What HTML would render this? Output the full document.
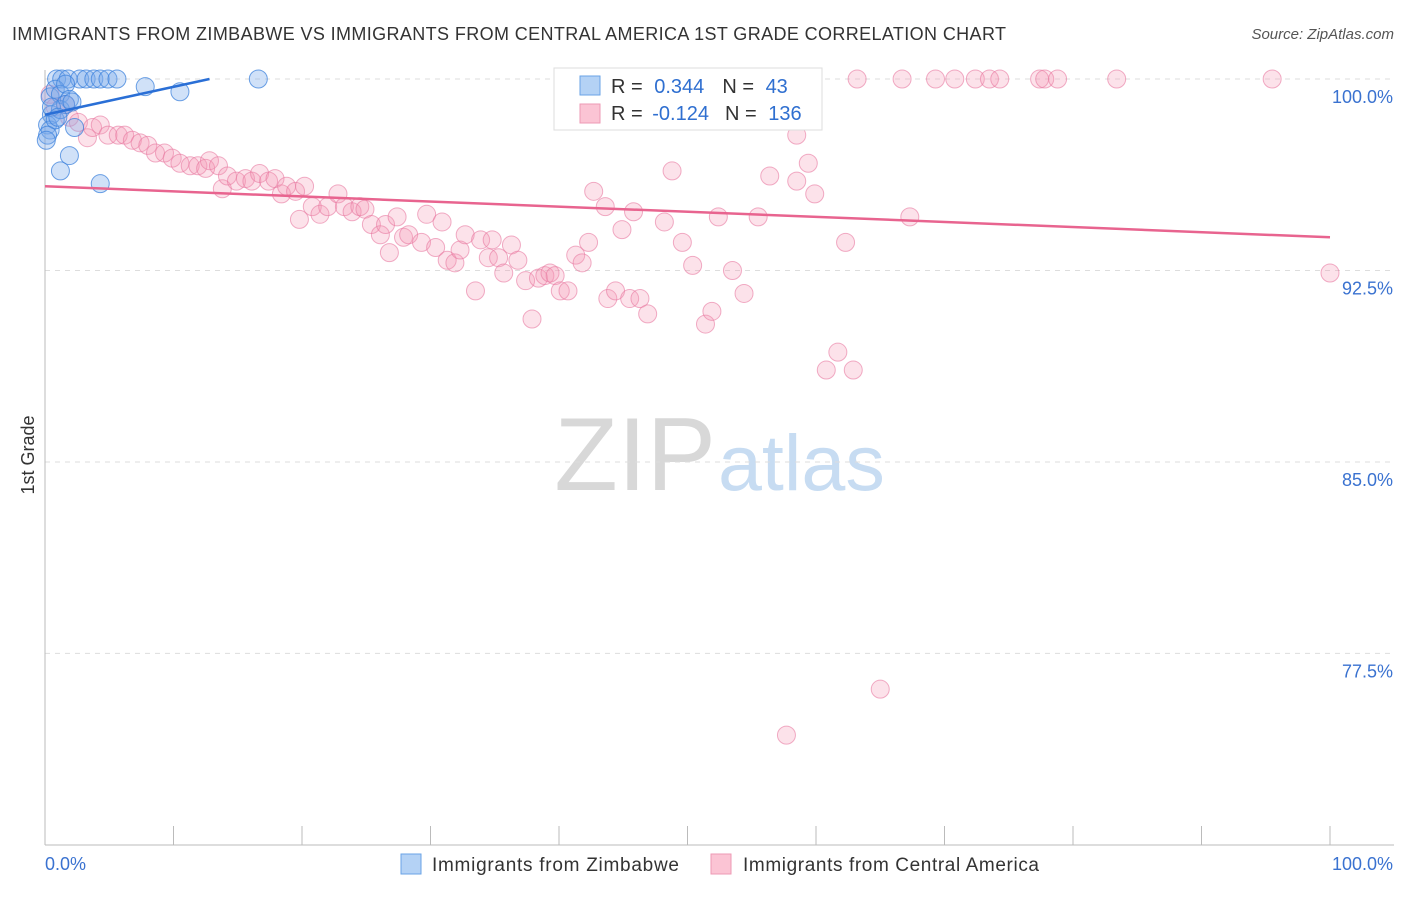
<!DOCTYPE html>
<html><head><meta charset="utf-8"><style>
body{margin:0;background:#fff;font-family:"Liberation Sans",sans-serif}
svg text{font-family:"Liberation Sans",sans-serif}
</style></head><body>
<svg id="c" width="1406" height="892" viewBox="0 0 1406 892">
<text x="12" y="40" font-size="18" fill="#333" textLength="994" lengthAdjust="spacing">IMMIGRANTS FROM ZIMBABWE VS IMMIGRANTS FROM CENTRAL AMERICA 1ST GRADE CORRELATION CHART</text>
<text x="1394" y="39" font-size="15" fill="#555" text-anchor="end" font-style="italic">Source: ZipAtlas.com</text>
<text x="716" y="490" font-size="104" fill="#d8d8d8" text-anchor="end" font-family="Liberation Serif">ZIP</text>
<text x="718" y="490" font-size="79" fill="#c7dcf2">atlas</text>
<text transform="translate(34,455) rotate(-90)" font-size="18" fill="#333" text-anchor="middle">1st Grade</text>
<g id="grid"></g><g id="marks"></g>
<g>
<rect x="554" y="68" width="268" height="62" fill="#fff" stroke="#ddd"/>
<rect x="580" y="76" width="20" height="19" fill="#b4d2f5" stroke="#6aa3e6"/>
<rect x="580" y="104" width="20" height="19" fill="#fbc4d4" stroke="#ee9ab4"/>
<text x="611" y="93" font-size="20" fill="#333">R = <tspan fill="#2f6fd0" dx="6">0.344</tspan><tspan dx="18" fill="#333">N = </tspan><tspan fill="#2f6fd0" dx="6">43</tspan></text>
<text x="611" y="120" font-size="20" fill="#333">R = <tspan fill="#2f6fd0" dx="4">-0.124</tspan><tspan dx="16" fill="#333">N = </tspan><tspan fill="#2f6fd0" dx="6">136</tspan></text>
</g>
<g>
<rect x="401" y="854" width="20" height="20" fill="#b4d2f5" stroke="#6aa3e6"/>
<text x="432" y="871" font-size="19" fill="#333" textLength="247">Immigrants from Zimbabwe</text>
<rect x="711" y="854" width="20" height="20" fill="#fbc4d4" stroke="#ee9ab4"/>
<text x="743" y="871" font-size="19" fill="#333" textLength="296">Immigrants from Central America</text>
</g>
</svg>
<script>
const yTicks=[100,92.5,85,77.5];
const yTickLabels=["100.0%","92.5%","85.0%","77.5%"];
const xTickLabels=["0.0%","100.0%"];
const blueX=[0.9,1.3,1.8,2.7,3.2,3.8,4.3,4.9,5.6,7.8,10.5,16.6,0.4,0.8,1.2,1.6,1.9,0.5,0.2,0.4,0.8,1.2,1.6,2.1,2.3,0.2,0.1,1.9,1.2,4.3,0.5,1.0];
const blueY=[100,100,100,100,100,100,100,100,100,99.7,99.5,100,99.3,99.6,99.4,99.8,99.2,98.6,98.2,98.0,98.4,98.8,99.0,99.1,98.1,97.8,97.6,97.0,96.4,95.9,98.9,98.5];
const pinkX=[47.8,55.6,58.0,63.2,66.7,69.3,70.8,72.4,73.5,74.3,77.4,77.8,78.8,83.4,95.5,100,0.4,0.8,1.6,1.9,3.3,2.6,3.7,4.3,4.9,5.7,6.2,6.8,7.4,8.0,8.6,9.3,9.9,10.5,11.3,11.9,12.5,12.8,13.5,13.8,14.2,14.9,15.6,16.1,16.7,17.4,17.9,18.4,18.8,19.5,19.8,20.2,20.8,21.4,22.0,22.8,23.3,23.9,24.5,24.9,25.4,26.1,26.5,26.8,27.4,27.9,28.3,29.3,29.7,30.4,30.9,31.3,31.9,32.3,32.7,33.5,33.9,34.5,34.8,35.3,35.7,36.3,36.8,37.4,37.9,38.4,38.9,39.3,39.7,40.1,40.7,41.3,41.8,42.3,42.7,43.6,43.8,44.4,44.9,45.5,45.8,46.3,46.9,48.2,48.8,49.6,50.4,51.4,51.9,52.4,53.5,54.4,55.5,56.4,58.2,58.5,58.5,59.4,59.9,60.8,61.7,62.3,62.9,65.0,57.7,67.3,50.5];
const pinkY=[100,100,100,100,100,100,100,100,100,100,100,100,100,100,100,92.4,99.4,98.9,99.0,98.5,97.7,98.3,98.1,98.2,97.8,97.8,97.8,97.6,97.5,97.4,97.1,97.1,96.9,96.7,96.6,96.6,96.5,96.8,96.6,95.7,96.2,96.0,96.1,96.0,96.3,96.0,96.1,95.5,95.8,95.6,94.5,95.8,95.0,94.7,95.0,95.5,95.0,94.8,95.0,94.9,94.3,93.9,94.3,93.2,94.6,93.8,93.9,93.6,94.7,93.4,94.4,92.9,92.8,93.3,93.9,91.7,93.7,93.0,93.7,93.0,92.4,93.5,92.9,92.1,90.6,92.2,92.3,92.4,92.3,91.7,91.7,93.1,92.8,93.6,95.6,95.0,91.4,91.7,94.1,91.4,94.8,91.4,90.8,94.4,96.4,93.6,92.7,90.4,90.9,94.6,92.5,91.6,94.6,96.2,98.7,97.8,96.0,96.7,95.5,88.6,89.3,93.6,88.6,76.1,74.3,94.6,98.5];
const blueTrendX=[0,12.8];const blueTrendY=[98.6,100];
const pinkTrendX=[0,100];const pinkTrendY=[95.8,93.8];
const X0=45,X1=1330;
const sx=v=>X0+(X1-X0)*v/100;
const sy=v=>79+(100-v)*25.53;
const NS="http://www.w3.org/2000/svg";
function mk(t,a,p){const e=document.createElementNS(NS,t);for(const k in a)e.setAttribute(k,a[k]);p.appendChild(e);return e;}
const g=document.getElementById('grid'),m=document.getElementById('marks');
yTicks.forEach((t,i)=>{
 const l=mk('line',{x1:X0,x2:1394,y1:sy(t),y2:sy(t),stroke:'#ddd','stroke-dasharray':'5,5'},g);
 
 
 const tx=mk('text',{x:1393,y:sy(t)+24,'font-size':18,fill:'#3a72d0','text-anchor':'end'},g);tx.textContent=yTickLabels[i];
 
 
});
mk('line',{x1:X0,x2:X0,y1:70,y2:845,stroke:'#bbb'},g);
mk('line',{x1:X0,x2:1394,y1:845,y2:845,stroke:'#bbb'},g);
for(let i=0;i<=10;i++){const x=sx(i*10);mk('line',{x1:x,x2:x,y1:826,y2:845,stroke:'#bbb'},g);}
const xl=[[X0,'start',0],[1393,'end',1]];
xl.forEach(([x,a,i])=>{const t=mk('text',{x:x,y:870,'font-size':18,fill:'#3a72d0','text-anchor':a},g);t.textContent=xTickLabels[i];
 
 });
pinkX.forEach((x,i)=>{const c=mk('circle',{cx:sx(x),cy:sy(pinkY[i]),r:9,fill:'rgba(244,150,180,0.28)',stroke:'rgba(232,120,160,0.6)'},m);
 
 });
blueX.forEach((x,i)=>{const c=mk('circle',{cx:sx(x),cy:sy(blueY[i]),r:9,fill:'rgba(120,170,235,0.35)',stroke:'rgba(60,130,220,0.75)'},m);
 
 });
const pl=mk('line',{x1:sx(pinkTrendX[0]),y1:sy(pinkTrendY[0]),x2:sx(pinkTrendX[1]),y2:sy(pinkTrendY[1]),stroke:'#e8648f','stroke-width':2.5},m);


const bl=mk('line',{x1:sx(blueTrendX[0]),y1:sy(blueTrendY[0]),x2:sx(blueTrendX[1]),y2:sy(blueTrendY[1]),stroke:'#2a6fd6','stroke-width':2.5},m);


</script>
</body></html>
